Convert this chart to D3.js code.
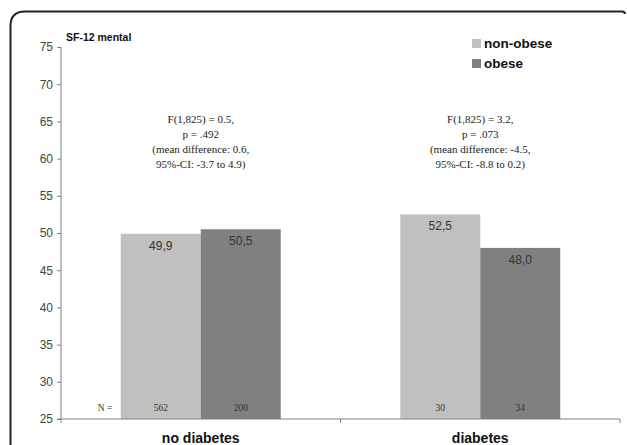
<!DOCTYPE html>
<html><head><meta charset="utf-8">
<script src="https://cdn.jsdelivr.net/npm/d3@7"></script>
<style>body{margin:0;background:#fff}svg{display:block}</style>
</head><body>
<svg id="c" width="627" height="445"></svg>
<script>
const categories = ["no diabetes", "diabetes"];
const groups = ["non-obese", "obese"];
const nonObese = [49.9, 52.5];
const obese = [50.5, 48.0];
const nNonObese = [562, 30];
const nObese = [200, 34];
const yTicks = [25, 30, 35, 40, 45, 50, 55, 60, 65, 70, 75];
const statsText = [
  ["F(1,825) = 0.5,", "p = .492", "(mean difference: 0.6,", "95%-CI: -3.7 to 4.9)"],
  ["F(1,825) = 3.2,", "p = .073", "(mean difference: -4.5,", "95%-CI: -8.8 to 0.2)"]
];
const colors = {"non-obese": "#c0c0c0", "obese": "#808080"};

const svg = d3.select("#c");
// frame
svg.append("path")
  .attr("d", "M10.5,460 L10.5,26 Q10.5,11.5 25,11.5 L622,11.5 Q625,11.5 625,14")
  .attr("fill", "none").attr("stroke", "#222").attr("stroke-width", 2);

const mLeft = 61, mRight = 620, mTop = 47, mBottom = 419;
const y = d3.scaleLinear().domain([25, 75]).range([mBottom, mTop]);
const x0 = d3.scaleBand().domain(categories).range([mLeft, mRight]);
const x1 = d3.scaleBand().domain(groups).range([0, 160]);
const offset = (x0.bandwidth() - 160) / 2;

const data = categories.map((c, i) => ({
  cat: c,
  vals: [
    {g: "non-obese", v: nonObese[i], n: nNonObese[i]},
    {g: "obese", v: obese[i], n: nObese[i]}
  ]
}));

const cg = svg.selectAll("g.cat").data(data).join("g").attr("class", "cat")
  .attr("transform", d => `translate(${x0(d.cat) + offset},0)`);
cg.selectAll("rect").data(d => d.vals).join("rect")
  .attr("x", d => x1(d.g)).attr("width", x1.bandwidth())
  .attr("y", d => y(d.v)).attr("height", d => y(25) - y(d.v))
  .attr("fill", d => colors[d.g]);
cg.selectAll("text.val").data(d => d.vals).join("text").attr("class", "val")
  .attr("x", d => x1(d.g) + x1.bandwidth() / 2)
  .attr("y", d => y(d.v) + 16)
  .attr("text-anchor", "middle")
  .attr("font-family", "Liberation Sans, Arial, sans-serif").attr("font-size", 12)
  .attr("fill", "#333")
  .text(d => d.v.toFixed(1).replace(".", ","));
cg.selectAll("text.n").data(d => d.vals).join("text").attr("class", "n")
  .attr("x", d => x1(d.g) + x1.bandwidth() / 2)
  .attr("y", 411)
  .attr("text-anchor", "middle")
  .attr("font-family", "Liberation Serif, serif").attr("font-size", 9.5)
  .attr("fill", "#333")
  .text(d => d.n);

svg.append("text").attr("x", 105).attr("y", 411).attr("text-anchor", "middle")
  .attr("font-family", "Liberation Serif, serif").attr("font-size", 9.5).attr("fill", "#333")
  .text("N =");

// y axis
const yAxis = svg.append("g").attr("transform", `translate(${mLeft},0)`)
  .call(d3.axisLeft(y).tickValues(yTicks).tickSize(4).tickPadding(4));
yAxis.select(".domain").attr("stroke", "#808080").attr("d", `M0,${mTop}V${mBottom}`);
yAxis.selectAll(".tick line").attr("stroke", "#808080");
yAxis.selectAll(".tick text").attr("font-family", "Liberation Sans, Arial, sans-serif")
  .attr("font-size", 12).attr("fill", "#444");

// x axis
const xAxisG = svg.append("g");
xAxisG.append("line").attr("x1", mLeft - 4).attr("x2", mRight).attr("y1", mBottom).attr("y2", mBottom)
  .attr("stroke", "#808080");
[mLeft, x0("diabetes"), mRight].forEach(t => {
  xAxisG.append("line").attr("x1", t).attr("x2", t).attr("y1", mBottom).attr("y2", mBottom + 4)
    .attr("stroke", "#808080");
});
svg.selectAll("text.catlab").data(categories).join("text").attr("class", "catlab")
  .attr("x", d => x0(d) + x0.bandwidth() / 2).attr("y", 443)
  .attr("text-anchor", "middle")
  .attr("font-family", "Liberation Sans, Arial, sans-serif").attr("font-weight", "bold")
  .attr("font-size", 14).attr("fill", "#111")
  .text(d => d);

// title
svg.append("text").attr("x", 66).attr("y", 41)
  .attr("font-family", "Liberation Sans, Arial, sans-serif").attr("font-weight", "bold")
  .attr("font-size", 10.5).attr("fill", "#111").text("SF-12 mental");

// stats annotations
statsText.forEach((lines, i) => {
  const t = svg.append("text").attr("text-anchor", "middle")
    .attr("font-family", "Liberation Serif, Times New Roman, serif").attr("font-size", 11)
    .attr("fill", "#222");
  lines.forEach((l, j) => {
    t.append("tspan").attr("x", x0(categories[i]) + x0.bandwidth() / 2)
      .attr("y", 123 + j * 15).text(l);
  });
});

// legend
groups.forEach((g, i) => {
  svg.append("rect").attr("x", 472).attr("y", 39 + i * 20).attr("width", 9).attr("height", 9)
    .attr("fill", colors[g]);
  svg.append("text").attr("x", 484).attr("y", 48 + i * 20)
    .attr("font-family", "Liberation Sans, Arial, sans-serif").attr("font-weight", "bold")
    .attr("font-size", 13.5).attr("fill", "#111").text(g);
});
</script>
</body></html>
